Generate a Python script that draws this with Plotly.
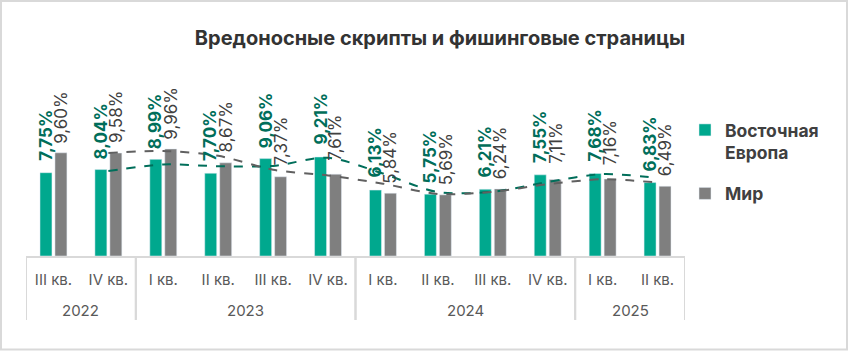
import plotly.graph_objects as go

quarters = ["III кв.", "IV кв.", "I кв.", "II кв.", "III кв.", "IV кв.",
            "I кв.", "II кв.", "III кв.", "IV кв.", "I кв.", "II кв."]
years = ["2022", "2023", "2024", "2025"]
year_spans = [(0, 1), (2, 5), (6, 9), (10, 11)]
east_europe = [7.75, 8.04, 8.99, 7.70, 9.06, 9.21, 6.13, 5.75, 6.21, 7.55, 7.68, 6.83]
world = [9.60, 9.58, 9.96, 8.67, 7.37, 7.61, 5.84, 5.69, 6.24, 7.11, 7.16, 6.49]
# dashed trend lines (2-period moving average), starting at 2nd quarter
east_trend = [7.90, 8.52, 8.35, 8.38, 9.14, 7.67, 5.94, 5.98, 6.88, 7.62, 7.26]
world_trend = [9.59, 9.77, 9.32, 8.02, 7.49, 6.73, 5.77, 5.97, 6.68, 7.14, 6.83]

GREEN = "#00A88E"
DGREEN = "#006E5A"
GRAY = "#7F7F7F"
TXT = "#404040"
FONT = "Inter"

x = list(range(len(quarters)))
xt = x[1:]

fig = go.Figure()
fig.add_trace(go.Bar(x=x, y=east_europe, name="Восточная<br>Европа", marker_color=GREEN,
                     legendgroup="a"))
fig.add_trace(go.Bar(x=x, y=world, name="Мир", marker_color=GRAY, legendgroup="b"))
fig.add_trace(go.Scatter(x=xt, y=east_trend, mode="lines", showlegend=False,
                         line=dict(color=DGREEN, width=2, dash="dash", shape="spline", smoothing=0.8)))
fig.add_trace(go.Scatter(x=xt, y=world_trend, mode="lines", showlegend=False,
                         line=dict(color="#606060", width=2, dash="dash", shape="spline", smoothing=0.8)))

def fmt(v):
    return f"{v:.2f}".replace(".", ",") + "%"

ann = []
for i, v in enumerate(east_europe):
    ann.append(dict(x=i, y=v, xref="x", yref="y", text=fmt(v), showarrow=False,
                    textangle=-90, xanchor="center", yanchor="middle", xshift=-7.5, yshift=38,
                    font=dict(family=FONT, size=17, color=DGREEN, weight="bold")))
for i, v in enumerate(world):
    ann.append(dict(x=i, y=v, xref="x", yref="y", text=fmt(v), showarrow=False,
                    textangle=-90, xanchor="center", yanchor="middle", xshift=7.5, yshift=36,
                    font=dict(family=FONT, size=17, color=TXT)))
for yr, (a, b) in zip(years, year_spans):
    ann.append(dict(x=(a + b) / 2, y=-0.314, xref="x", yref="paper", text=yr, showarrow=False,
                    xanchor="center", yanchor="middle",
                    font=dict(family=FONT, size=15, color="#595959")))

shapes = []
for a, b in year_spans:
    for xx in (a - 0.5, b + 0.5):
        shapes.append(dict(type="line", xref="x", yref="paper", x0=xx, x1=xx, y0=0, y1=-0.372,
                           line=dict(color="#D9D9D9", width=2)))
shapes.append(dict(type="rect", xref="paper", yref="paper",
                   x0=(1 - 26) / 659, x1=(847 - 26) / 659,
                   y0=(256 - 349.5) / 172, y1=(256 - 1) / 172,
                   line=dict(color="#D9D9D9", width=2)))

fig.update_layout(
    width=849, height=351,
    margin=dict(l=26, r=164, t=84, b=95),
    plot_bgcolor="white", paper_bgcolor="white",
    barmode="group", bargap=0.455, bargroupgap=0.2,
    title=dict(text="<b>Вредоносные скрипты и фишинговые страницы</b>", x=440 / 849, xref="container",
               xanchor="center", y=1 - 38 / 351, yanchor="middle",
               font=dict(family=FONT, size=20, color="#333333")),
    xaxis=dict(range=[-0.5, 11.5], tickvals=x, ticktext=quarters, showgrid=False, zeroline=False,
               showline=True, linecolor="#D9D9D9", linewidth=2, ticks="", ticklabelstandoff=9,
               tickfont=dict(family=FONT, size=15, color="#595959")),
    yaxis=dict(range=[0, 16], visible=False),
    legend=dict(x=1.0, y=0.837, xanchor="left", yanchor="top", traceorder="grouped",
                tracegroupgap=15, valign="top",
                font=dict(family=FONT, size=17.5, color=TXT, weight="bold")),
    annotations=ann, shapes=shapes,
)

fig.write_html("out.html")
